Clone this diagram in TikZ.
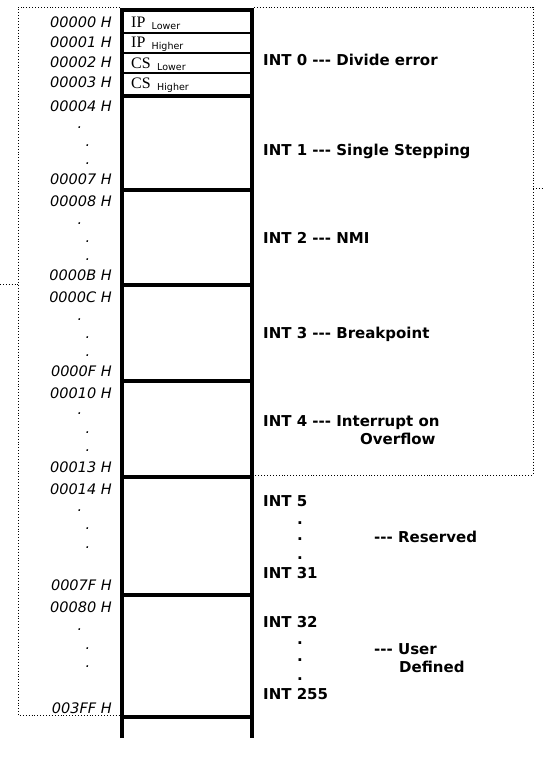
\documentclass[tikz,border=0pt]{standalone}
\usepackage{fontspec}
\setmainfont{DejaVu Sans}
\newfontfamily\cellserif{Liberation Serif}
\newcommand{\tdash}{-\kern0pt-\kern0pt-}
\begin{document}
\begin{tikzpicture}[x=1pt,y=-1pt,
  addr/.style={font=\fontsize{14.5}{17}\selectfont\itshape, anchor=base east, inner sep=0pt},
  vdot/.style={font=\fontsize{14.5}{17}\selectfont\itshape, anchor=base, inner sep=0pt},
  idot/.style={font=\fontsize{15}{17}\selectfont\bfseries, anchor=base, inner sep=0pt},
  intlbl/.style={font=\fontsize{15}{17}\selectfont\bfseries, anchor=base west, inner sep=0pt},
  celltxt/.style={font=\cellserif\fontsize{16}{18}\selectfont, anchor=base west, inner sep=0pt},
  subtxt/.style={font=\fontsize{9.5}{11}\selectfont, anchor=base west, inner sep=0pt},
  heavy/.style={line width=4pt},
  light/.style={line width=1.8pt},
  dotline/.style={dotted, line width=0.9pt}
]
\useasboundingbox (0,0) rectangle (544,758);

% dotted outlines
\draw[dotline] (120,7) -- (18,7) -- (18,715) -- (120,715);
\draw[dotline] (254,7) -- (533,7) -- (533,475) -- (254,475);
\draw[dotline] (0,284) -- (18,284);
\draw[dotline] (533,188) -- (544,188);

% memory column
\draw[heavy, line join=miter] (122,738) -- (122,10.3) -- (252,10.3) -- (252,738);
\foreach \yy in {32.7,52.7,72.7} \draw[light] (122,\yy) -- (252,\yy);
\foreach \yy in {95.5,190.3,285.3,381.3,477,594.7,717} \draw[heavy] (120,\yy) -- (254,\yy);

% cell contents
\node[celltxt] (ip1) at (131,27.5) {IP};
\node[subtxt] (ip1s) at (151.5,29.5) {Lower};
\node[celltxt] (ip2) at (131,47.7) {IP};
\node[subtxt] (ip2s) at (151.5,49.5) {Higher};
\node[celltxt] (cs1) at (131,68) {CS};
\node[subtxt] (cs1s) at (157,70) {Lower};
\node[celltxt] (cs2) at (131,88) {CS};
\node[subtxt] (cs2s) at (157,90) {Higher};

% addresses
\node[addr] (a0) at (112,27.3) {00000 H};
\node[addr] (a1) at (112,47.7) {00001 H};
\node[addr] (a2) at (112,67.7) {00002 H};
\node[addr] (a3) at (112,87.7) {00003 H};
\node[addr] (a4) at (112,111) {00004 H};
\node[addr] (a7) at (112,184) {00007 H};
\node[addr] (a8) at (112,206.7) {00008 H};
\node[addr] (aB) at (112,280) {0000B H};
\node[addr] (aC) at (112,302) {0000C H};
\node[addr] (aF) at (112,376) {0000F H};
\node[addr] (a10) at (112,398) {00010 H};
\node[addr] (a13) at (112,472) {00013 H};
\node[addr] (a14) at (112,494) {00014 H};
\node[addr] (a7F) at (112,590) {0007F H};
\node[addr] (a80) at (112,612) {00080 H};
\node[addr] (a3FF) at (112,713) {003FF H};

% vertical dots in address column
\foreach \yy/\nm in {127/a, 222.7/b, 319/f, 413/c, 510/d, 629/e}
  \node[vdot] (d1\nm) at (80,\yy+1.5) {.};
\foreach \yy/\nm in {145/a, 241/b, 337/f, 432/c, 528/d, 648/e}
  \node[vdot] (d2\nm) at (88,\yy+1.5) {.};
\foreach \yy/\nm in {163/a, 259/b, 355/f, 450/c, 547/d, 666/e}
  \node[vdot] (d3\nm) at (88,\yy+1.5) {.};

% interrupt labels
\node[intlbl] (i0) at (263,65) {INT 0 \tdash{} Divide error};
\node[intlbl] (i1) at (263,155) {INT 1 \tdash{} Single Stepping};
\node[intlbl] (i2) at (263,243) {INT 2 \tdash{} NMI};
\node[intlbl] (i3) at (263,338) {INT 3 \tdash{} Breakpoint};
\node[intlbl] (i4) at (263,426.7) {INT 4 \tdash{} Interrupt on};
\node[intlbl] (i4b) at (360,444) {Overflow};
\node[intlbl] (i5) at (263,506) {INT 5};
\node[idot] (r1) at (300,524) {.};
\node[idot] (r2) at (300,540) {.};
\node[idot] (r3) at (300,559) {.};
\node[intlbl] (res) at (374,542) {\tdash{} Reserved};
\node[intlbl] (i31) at (263,578) {INT 31};
\node[intlbl] (i32) at (263,627) {INT 32};
\node[idot] (u1) at (300,644) {.};
\node[idot] (u2) at (300,661) {.};
\node[idot] (u3) at (300,680) {.};
\node[intlbl] (usr) at (374,654) {\tdash{} User};
\node[intlbl] (def) at (399,672) {Defined};
\node[intlbl] (i255) at (263,699) {INT 255};
\end{tikzpicture}
\end{document}
